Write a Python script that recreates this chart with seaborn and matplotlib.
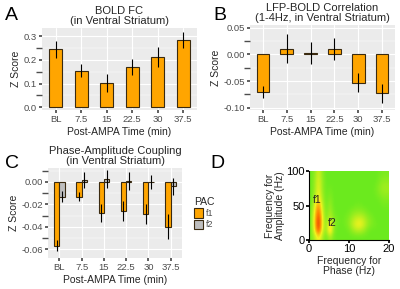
import matplotlib
matplotlib.use("Agg")
import matplotlib.pyplot as plt
import numpy as np
import seaborn as sns
import pandas as pd
from matplotlib.colors import LinearSegmentedColormap
from matplotlib.ticker import MultipleLocator

# data
times = ["BL", "7.5", "15", "22.5", "30", "37.5"]

bold_fc = [0.245, 0.155, 0.103, 0.170, 0.212, 0.285]
bold_fc_err = [0.036, 0.028, 0.038, 0.035, 0.043, 0.033]

lfp_corr = [-0.071, 0.011, 0.003, 0.010, -0.053, -0.073]
lfp_corr_err = [0.011, 0.028, 0.021, 0.020, 0.018, 0.018]

pac_f1 = [-0.057, -0.013, -0.028, -0.026, -0.029, -0.040]
pac_f1_err = [0.005, 0.004, 0.008, 0.009, 0.009, 0.011]
pac_f2 = [-0.013, 0.002, 0.003, 0.001, 0.000, -0.004]
pac_f2_err = [0.005, 0.007, 0.008, 0.008, 0.006, 0.008]

# comodulogram, rows = amplitude 0..100 (step 10), cols = phase 0..20 (step 1)
como = [
    [.22, .35, .55, .35, .20, .35, .22, .20, .20, .20, .20, .20, .20, .20, .20, .20, .20, .20, .20, .20, .20],
    [.22, .50, .90, .45, .25, .70, .25, .20, .20, .20, .22, .30, .36, .36, .30, .22, .20, .20, .20, .20, .20],
    [.22, .55, 1.0, .50, .25, .60, .28, .22, .20, .22, .28, .40, .50, .52, .42, .30, .25, .22, .20, .20, .20],
    [.22, .55, .95, .50, .22, .40, .25, .22, .20, .22, .26, .34, .40, .42, .36, .28, .24, .20, .20, .20, .20],
    [.22, .50, .85, .45, .22, .35, .22, .20, .20, .20, .22, .26, .28, .28, .26, .22, .20, .20, .20, .20, .20],
    [.20, .45, .75, .42, .20, .32, .20, .20, .20, .20, .20, .20, .22, .22, .20, .20, .20, .20, .20, .22, .22],
    [.20, .35, .58, .35, .20, .28, .20, .20, .20, .20, .20, .20, .20, .20, .20, .20, .20, .20, .22, .25, .25],
    [.20, .32, .52, .32, .20, .24, .20, .20, .20, .20, .20, .20, .20, .20, .20, .20, .20, .22, .26, .30, .30],
    [.20, .30, .50, .30, .20, .22, .20, .20, .20, .20, .20, .20, .20, .20, .20, .20, .20, .22, .28, .32, .32],
    [.20, .30, .48, .30, .20, .20, .20, .20, .20, .20, .20, .20, .20, .20, .20, .20, .20, .20, .24, .28, .28],
    [.20, .28, .45, .28, .20, .20, .20, .20, .20, .20, .20, .20, .20, .20, .20, .20, .20, .20, .22, .24, .24],
]

orange = "#FFA500"
grey = "#BEBEBE"
edge = "#3a2a10"

sns.set_theme(style="darkgrid", rc={
    "axes.facecolor": "#EBEBEB",
    "grid.color": "white",
    "axes.edgecolor": "#EBEBEB",
    "xtick.bottom": True,
    "ytick.left": True,
    "xtick.color": "#4d4d4d",
    "ytick.color": "#4d4d4d",
    "xtick.major.size": 2,
    "ytick.major.size": 2,
    "xtick.major.pad": 1.5,
    "ytick.major.pad": 1.5,
})
plt.rcParams["font.family"] = ["Liberation Sans", "DejaVu Sans"]

W, H = 400, 289
fig = plt.figure(figsize=(4, 2.89), dpi=100)
fig.patch.set_facecolor("white")


def rect(l, t, r, b):
    return [l / W, 1 - b / H, (r - l) / W, (b - t) / H]


def style_axes(ax, title, ylim, major, minor):
    ax.set_title(title, fontsize=8, pad=3, linespacing=1.0)
    ax.set_xlabel("Post-AMPA Time (min)", fontsize=7.5, labelpad=2)
    ax.set_ylabel("Z Score", fontsize=7.5, labelpad=2)
    ax.tick_params(labelsize=6.8, colors="#4d4d4d")
    for lbl in ax.get_xticklabels() + ax.get_yticklabels():
        lbl.set_color("#4d4d4d")
    ax.set_ylim(*ylim)
    ax.yaxis.set_major_locator(MultipleLocator(major))
    ax.yaxis.set_minor_locator(MultipleLocator(minor))
    ax.grid(True, which="minor", axis="y", color="white", linewidth=0.35)
    ax.grid(True, which="major", color="white", linewidth=0.8)
    for s in ax.spines.values():
        s.set_visible(False)


def add_errors(ax, values, errors, bars):
    for p, v, e in zip(bars, values, errors):
        x = p.get_x() + p.get_width() / 2
        ax.errorbar(x, v, yerr=e, fmt="none", ecolor="black", elinewidth=0.8, capsize=0, zorder=5)


# panel A
df_a = pd.DataFrame({"time": times, "z": bold_fc})
ax_a = fig.add_axes(rect(42, 28, 197, 110))
sns.barplot(data=df_a, x="time", y="z", color=orange, width=0.52, edgecolor=edge,
            linewidth=0.8, saturation=1, errorbar=None, ax=ax_a)
add_errors(ax_a, bold_fc, bold_fc_err, ax_a.patches)
style_axes(ax_a, "BOLD FC\n(in Ventral Striatum)", (-0.012, 0.335), 0.1, 0.05)
ax_a.yaxis.set_major_formatter(lambda v, p: f"{v:.1f}")

# panel B
df_b = pd.DataFrame({"time": times, "z": lfp_corr})
ax_b = fig.add_axes(rect(250, 25, 395, 110))
sns.barplot(data=df_b, x="time", y="z", color=orange, width=0.52, edgecolor=edge,
            linewidth=0.8, saturation=1, errorbar=None, ax=ax_b)
add_errors(ax_b, lfp_corr, lfp_corr_err, ax_b.patches)
style_axes(ax_b, "LFP-BOLD Correlation\n(1-4Hz, in Ventral Striatum)", (-0.104, 0.055), 0.05, 0.025)
ax_b.yaxis.set_major_formatter(lambda v, p: f"{v:.2f}")

# panel C
df_c = pd.DataFrame({
    "time": times * 2,
    "z": pac_f1 + pac_f2,
    "PAC": ["f1"] * 6 + ["f2"] * 6,
})
ax_c = fig.add_axes(rect(48, 168, 182, 258))
sns.barplot(data=df_c, x="time", y="z", hue="PAC", palette=[orange, grey], width=0.48,
            edgecolor=edge, linewidth=0.8, saturation=1, errorbar=None, ax=ax_c)
add_errors(ax_c, pac_f1, pac_f1_err, ax_c.containers[0])
add_errors(ax_c, pac_f2, pac_f2_err, ax_c.containers[1])
style_axes(ax_c, "Phase-Amplitude Coupling\n(in Ventral Striatum)", (-0.068, 0.0125), 0.02, 0.01)
ax_c.yaxis.set_major_formatter(lambda v, p: f"{v:.2f}")
leg = ax_c.legend(title="PAC", loc="center left", bbox_to_anchor=(1.06, 0.5), frameon=False,
                  fontsize=6.5, title_fontsize=7.5, handlelength=1.0, handleheight=1.2,
                  handletextpad=0.3, labelspacing=0.2, borderaxespad=0)
for t in leg.get_texts():
    t.set_color("#4d4d4d")

# panel D
cmap = LinearSegmentedColormap.from_list("como", [
    (0.0, (0.25, 0.85, 0.10)),
    (0.2, (0.42, 0.92, 0.12)),
    (0.5, (0.95, 0.95, 0.12)),
    (0.75, (1.00, 0.50, 0.00)),
    (1.0, (0.85, 0.08, 0.05)),
])
ax_d = fig.add_axes(rect(309, 171, 389, 240))
ax_d.set_facecolor("white")
ax_d.imshow(np.array(como), origin="lower", extent=(0, 20, 0, 100), aspect="auto",
            cmap=cmap, vmin=0, vmax=1, interpolation="bicubic")
ax_d.grid(False)
for side in ["top", "right"]:
    ax_d.spines[side].set_visible(False)
for side in ["left", "bottom"]:
    ax_d.spines[side].set_visible(True)
    ax_d.spines[side].set_color("black")
    ax_d.spines[side].set_linewidth(0.8)
ax_d.set_xticks([0, 10, 20])
ax_d.set_yticks([0, 50, 100])
ax_d.tick_params(labelsize=8, colors="black", length=2, pad=1)
for lbl in ax_d.get_xticklabels() + ax_d.get_yticklabels():
    lbl.set_color("black")
ax_d.set_xlabel("Frequency for\nPhase (Hz)", fontsize=7.5, labelpad=1, linespacing=1.0)
ax_d.set_ylabel("Frequency for\nAmplitude (Hz)", fontsize=7.5, labelpad=1, linespacing=1.0)
ax_d.text(1.0, 58, "f1", fontsize=7.5, color="#222222", ha="left", va="center")
ax_d.text(4.8, 25, "f2", fontsize=7.5, color="#222222", ha="left", va="center")

# panel letters
for letter, x, y in [("A", 5, 20), ("B", 213, 20), ("C", 5, 168), ("D", 210, 168)]:
    fig.text(x / W, 1 - y / H, letter, fontsize=14, ha="left", va="baseline", color="black")

fig.savefig("out.png", dpi=100)
